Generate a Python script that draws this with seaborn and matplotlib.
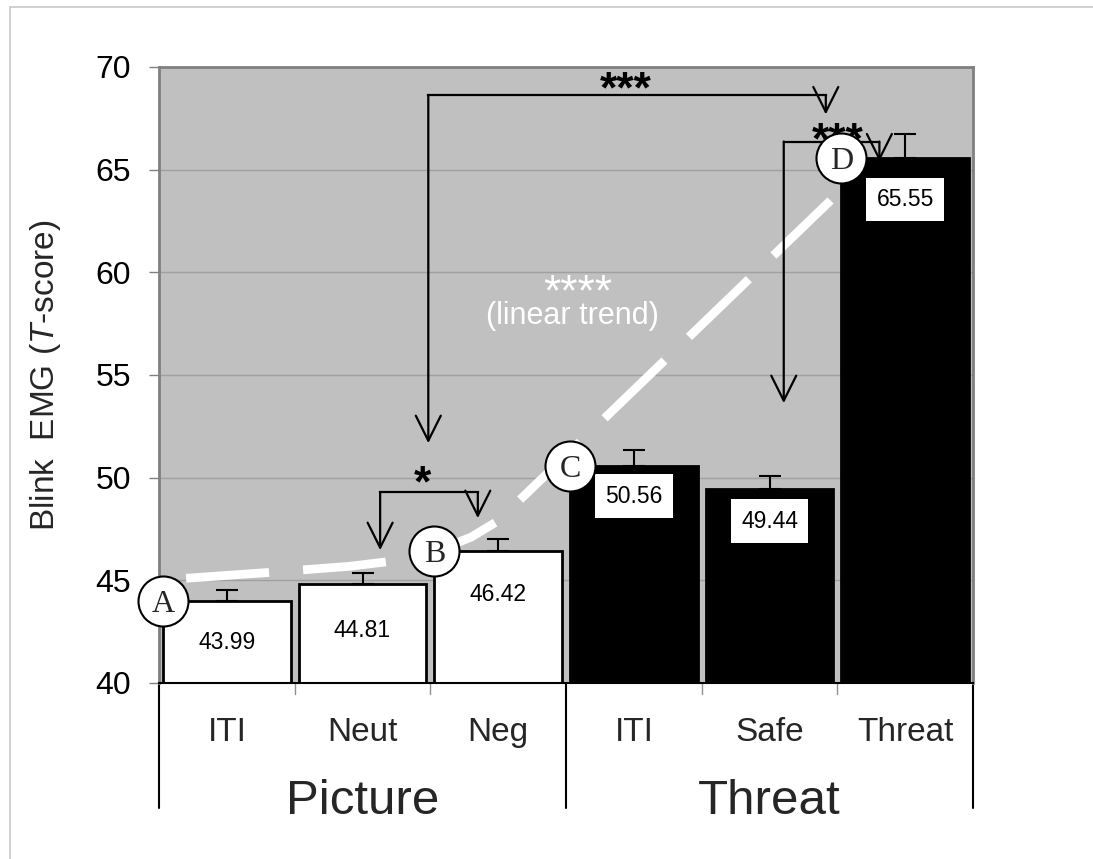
import numpy as np
import pandas as pd
import matplotlib
matplotlib.use('Agg')
import matplotlib.pyplot as plt
import matplotlib.transforms as mtransforms
from matplotlib.lines import Line2D
import seaborn as sns

# ---------------- data ----------------
conditions = ['ITI', 'Neut', 'Neg', 'ITI', 'Safe', 'Threat']
groups = ['Picture', 'Picture', 'Picture', 'Threat', 'Threat', 'Threat']
values = [43.99, 44.81, 46.42, 50.56, 49.44, 65.55]
errors = [0.55, 0.55, 0.58, 0.80, 0.65, 1.20]
value_labels = ['43.99', '44.81', '46.42', '50.56', '49.44', '65.55']
group_names = ['Picture', 'Threat']
group_centers = [1, 4]
circle_letters = ['A', 'B', 'C', 'D']
circle_bars = [0, 2, 3, 5]
trend_x = [-0.30, 0.30, 0.90, 1.30, 1.55, 1.80, 2.00, 4.45]
trend_y = [45.10, 45.38, 45.68, 46.00, 46.45, 47.10, 47.90, 63.50]
yticks = [40, 45, 50, 55, 60, 65, 70]

# significance brackets
br_left_x = [1.485, 4.105, 1.13]
br_right_x = [4.415, 4.81, 1.85]
br_top_y = [68.63, 66.37, 49.29]
br_left_tip = [51.68, 53.63, 46.47]
br_right_tip = [67.69, 65.40, 48.03]
br_stars = ['***', '***', '*']
br_star_x = [2.94, 4.50, 1.44]
br_star_y = [69.25, 66.75, 50.05]

trend_stars = '****'
trend_label = '(linear trend)'

# ---------------- style ----------------
sns.set_theme(style='white')
plt.rcParams['font.family'] = ['Liberation Sans', 'DejaVu Sans']
plt.rcParams['mathtext.fontset'] = 'custom'
plt.rcParams['mathtext.rm'] = 'Liberation Sans'
plt.rcParams['mathtext.it'] = 'Liberation Sans:italic'

W, H = 1093, 859
fig = plt.figure(figsize=(W / 100, H / 100), dpi=100)
fig.patch.set_facecolor('white')
ax = fig.add_axes([159 / W, (H - 683) / H, (973 - 159) / W, (683 - 67) / H])
ax.set_facecolor('#c0c0c0')

df = pd.DataFrame({
    'cond': [f'{g}-{c}' for g, c in zip(groups, conditions)],
    'value': values,
    'group': groups,
})

sns.barplot(data=df, x='cond', y='value', hue='group',
            palette={'Picture': 'white', 'Threat': 'black'},
            dodge=False, width=0.94, edgecolor='black', linewidth=2,
            errorbar=None, legend=False, ax=ax, zorder=2)

xpos = np.arange(len(values))
ax.errorbar(xpos, values, yerr=[np.zeros(len(errors)), errors], fmt='none',
            ecolor='black', elinewidth=1.5, capsize=8, capthick=1.5, zorder=3)

ax.set_xlim(-0.5, len(values) - 0.5)
ax.set_ylim(40, 70)
ax.set_yticks(yticks)
ax.set_yticklabels([str(t) for t in yticks])
ax.tick_params(axis='y', direction='out', length=7, width=1, color='#808080',
               labelsize=23, pad=13, labelcolor='black', left=True)
ax.set_xticks([])
ax.set_xlabel('')
ax.yaxis.grid(True, color='#a0a0a0', lw=1)
ax.set_axisbelow(True)

for side in ['left', 'top', 'right']:
    ax.spines[side].set_color('#808080')
    ax.spines[side].set_linewidth(2)
ax.spines['bottom'].set_color('black')
ax.spines['bottom'].set_linewidth(1.5)

ax.set_ylabel(r'Blink  EMG ($\mathit{T}$-score)', fontsize=24)
ax.yaxis.set_label_coords(-0.118, 0.5)

# trend line
ax.plot(trend_x, trend_y, color='white', lw=6.3, dashes=(9.5, 3.9),
        dash_capstyle='butt', solid_capstyle='butt', zorder=4)

# value labels
label_off = [29.5, 33, 31.5, 21.5, 23, 29.5]
for i, (v, lab) in enumerate(zip(values, value_labels)):
    kw = {}
    if groups[i] == 'Threat':
        kw['bbox'] = dict(boxstyle='square,pad=0.45', fc='white', ec='none')
    ax.annotate(lab, (i, v), xytext=(0, -label_off[i]), textcoords='offset points',
                ha='center', va='center', fontsize=16.5, color='black', zorder=5, **kw)


def stars(x, y, s, fs, color='black', weight='bold'):
    ax.annotate(s, (x, y), xytext=(0, -0.44 * fs), textcoords='offset points',
                ha='center', va='baseline', fontsize=fs, color=color, zorder=6,
                fontweight=weight, annotation_clip=False)


# brackets
astyle = '->,head_length=1.0,head_width=0.5'
for lx, rx, ty, lt, rt, s, sx, sy in zip(br_left_x, br_right_x, br_top_y, br_left_tip,
                                         br_right_tip, br_stars, br_star_x, br_star_y):
    ax.plot([lx, rx], [ty, ty], color='black', lw=1.6, zorder=6, solid_capstyle='projecting')
    for xx, tip in [(lx, lt), (rx, rt)]:
        ax.annotate('', xy=(xx, tip), xytext=(xx, ty),
                    arrowprops=dict(arrowstyle=astyle, lw=1.6, color='black',
                                    shrinkA=0, shrinkB=0, mutation_scale=18),
                    zorder=6, annotation_clip=False)
    stars(sx, sy, s, 32)

# trend annotation
stars(2.585, 59.35, trend_stars, 32, color='white', weight='normal')
ax.text(2.548, 57.85, trend_label, ha='center', va='center', fontsize=22,
        color='white', zorder=6)

# circles
for letter, bi in zip(circle_letters, circle_bars):
    cx, cy = bi - 0.47, values[bi]
    ax.scatter([cx], [cy], s=1296, facecolor='white', edgecolor='black',
               linewidth=1.5, zorder=7, clip_on=False)
    ax.text(cx, cy, letter, ha='center', va='center_baseline', fontsize=23,
            family='Liberation Serif', zorder=8)

# x axis labelling
trans = mtransforms.blended_transform_factory(ax.transData, ax.transAxes)
for i, c in enumerate(conditions):
    ax.text(i, -0.081, c, transform=trans, ha='center', va='center', fontsize=24)
for g, gc in zip(group_names, group_centers):
    ax.text(gc, -0.192, g, transform=trans, ha='center', va='center', fontsize=35.5)
for xb in [-0.5, 2.5, 5.5]:
    ax.plot([xb, xb], [0, -0.203], transform=trans, color='black', lw=1.5, clip_on=False)
for xb in [0.5, 1.5, 3.5, 4.5]:
    ax.plot([xb, xb], [0, -0.018], transform=trans, color='#909090', lw=1, clip_on=False)

# figure border
fig.add_artist(Line2D([10 / W, 10 / W], [0, 1 - 7 / H], transform=fig.transFigure,
                      color='#c8c8c8', lw=1.2))
fig.add_artist(Line2D([10 / W, 1], [1 - 7 / H, 1 - 7 / H], transform=fig.transFigure,
                      color='#c8c8c8', lw=1.2))

fig.savefig('out.png', dpi=100, facecolor='white')
